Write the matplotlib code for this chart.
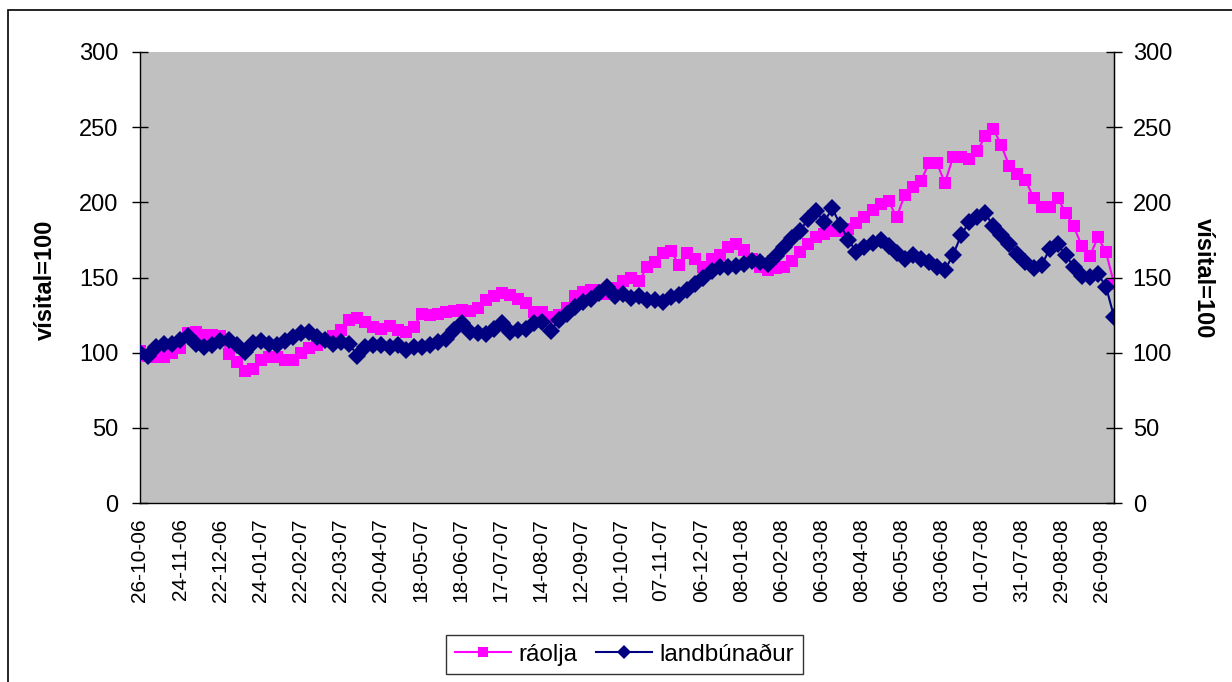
import numpy as np
import matplotlib
matplotlib.use("Agg")
import matplotlib.pyplot as plt
from matplotlib.patches import Rectangle

plt.rcParams['font.family'] = ['Liberation Sans', 'DejaVu Sans']

# ---- data -------------------------------------------------------------
tick_labels = ["26-10-06", "24-11-06", "22-12-06", "24-01-07", "22-02-07",
               "22-03-07", "20-04-07", "18-05-07", "18-06-07", "17-07-07",
               "14-08-07", "12-09-07", "10-10-07", "07-11-07", "06-12-07",
               "08-01-08", "06-02-08", "06-03-08", "08-04-08", "06-05-08",
               "03-06-08", "01-07-08", "31-07-08", "29-08-08", "26-09-08"]
n_categories = 487          # trading days shown on the category axis
label_every = 20            # one tick label every 20 trading days

raolja = [101, 97.5, 97, 97, 100, 103, 113, 114, 112, 112,
          111, 99, 94, 88, 89, 95, 97, 97, 95, 95,
          100, 103, 105, 108, 111, 115, 122, 123, 120.5, 117,
          116, 118, 115, 114, 117, 126, 125, 126, 127, 128,
          128.4, 128, 130, 135, 138, 139.4, 138.5, 136, 133, 127,
          127, 124, 125, 130, 138, 140.5, 141.7, 141.7, 139, 143,
          147.5, 150, 147.5, 157, 160, 166, 167.5, 158, 166, 162,
          157, 162, 165, 170, 172, 168, 162, 157, 155, 156,
          157, 161, 167, 172, 177, 179, 181, 181, 182, 186,
          190, 195, 199, 201, 190, 205, 210, 214, 226, 226,
          213, 230, 230, 229, 234, 244, 249, 238, 224, 219,
          215, 203, 197, 197, 203, 193, 184, 171, 164, 177,
          167, 146]

landbunadur = [100, 98, 104, 105.5, 106, 108.5, 111, 106, 104, 105,
               108, 108.5, 105, 100.5, 106.5, 108, 106, 105, 108, 110.5,
               113, 114, 110.5, 108.5, 106, 107, 106, 98, 104, 105,
               105, 104, 105, 102, 104, 104, 105, 107, 109, 115,
               120, 114, 113, 112.5, 116, 119.5, 114, 115, 116, 119.5,
               120.5, 114.5, 121.5, 126, 130.5, 134, 136, 139.5, 144, 137.5,
               139, 136.5, 137.5, 135, 135, 133.5, 137, 138.5, 142, 146,
               150, 154, 157, 157, 157.5, 159, 161, 160, 159, 164,
               170, 176, 181, 189, 194, 187, 196, 185, 175, 167,
               170, 173, 175, 171, 166, 162, 165, 162, 160.5, 157,
               155, 165, 178, 187, 190, 193, 184, 178, 172, 165.5,
               160, 156, 158, 169, 172, 165, 157, 151, 150.5, 152.5,
               144, 124]

# ---- figure -------------------------------------------------------------
W, H = 1232, 682
fig = plt.figure(figsize=(W / 100, H / 100), dpi=100)
fig.patch.set_facecolor('white')

# outer chart border (only left/top visible in the reference)
fig.add_artist(Rectangle((8 / W, -0.05), 1.2, 1 - 10 / H + 0.05,
                         transform=fig.transFigure, fill=False,
                         edgecolor='black', lw=1.2))

left, right, top, bottom = 140, 1114, 52, 503
ax = fig.add_axes([left / W, 1 - bottom / H, (right - left) / W, (bottom - top) / H])
ax.set_facecolor('#C0C0C0')

x_r = np.linspace(0, n_categories - 1, len(raolja))
x_l = np.linspace(0, n_categories - 1, len(landbunadur))

ax.plot(x_r, raolja, color='#FF00FF', lw=1.5, marker='s', markersize=8.8,
        markeredgewidth=0, label='ráolja', zorder=3)
ax.plot(x_l, landbunadur, color='#000080', lw=1.5, marker='D', markersize=9.5,
        markeredgewidth=0, label='landbúnaður', zorder=4)

ax.set_xlim(0, n_categories - 1)
ax.set_ylim(0, 300)
ax.set_yticks(np.arange(0, 301, 50))
ax.set_xticks(np.arange(len(tick_labels)) * label_every)
ax.set_xticklabels(tick_labels, rotation=90, fontsize=15)
ax.tick_params(axis='x', length=0, pad=11)
ax.tick_params(axis='y', direction='inout', length=11, width=1, labelsize=17,
               pad=10, left=True, right=True, labelleft=True, labelright=False)

for s in ['left', 'right', 'bottom']:
    ax.spines[s].set_color('black')
    ax.spines[s].set_linewidth(1)
ax.spines['top'].set_visible(False)

ax2 = ax.twinx()
ax2.set_ylim(0, 300)
ax2.set_yticks(np.arange(0, 301, 50))
ax2.tick_params(axis='y', direction='inout', length=11, width=1, labelsize=17, pad=8)
for s in ['top', 'left', 'bottom']:
    ax2.spines[s].set_visible(False)
ax2.spines['right'].set_color('black')

fig.text(45 / W, 1 - 280 / H, 'vísital=100', rotation=90, fontsize=17,
         fontweight='bold', ha='center', va='center')
fig.text(1203 / W, 1 - 278 / H, 'vísital=100', rotation=-90, fontsize=17,
         fontweight='bold', ha='center', va='center')

leg = fig.legend(*ax.get_legend_handles_labels(), loc='center',
                 bbox_to_anchor=(624.5 / W, 1 - 654.5 / H), ncol=2,
                 fontsize=17.5, frameon=True, fancybox=False, shadow=False,
                 handlelength=2.3, handletextpad=0.3, columnspacing=0.8,
                 borderpad=0.35, markerscale=0.8)
leg.get_frame().set_edgecolor('black')
leg.get_frame().set_linewidth(1)

fig.savefig('out.png', dpi=100)
